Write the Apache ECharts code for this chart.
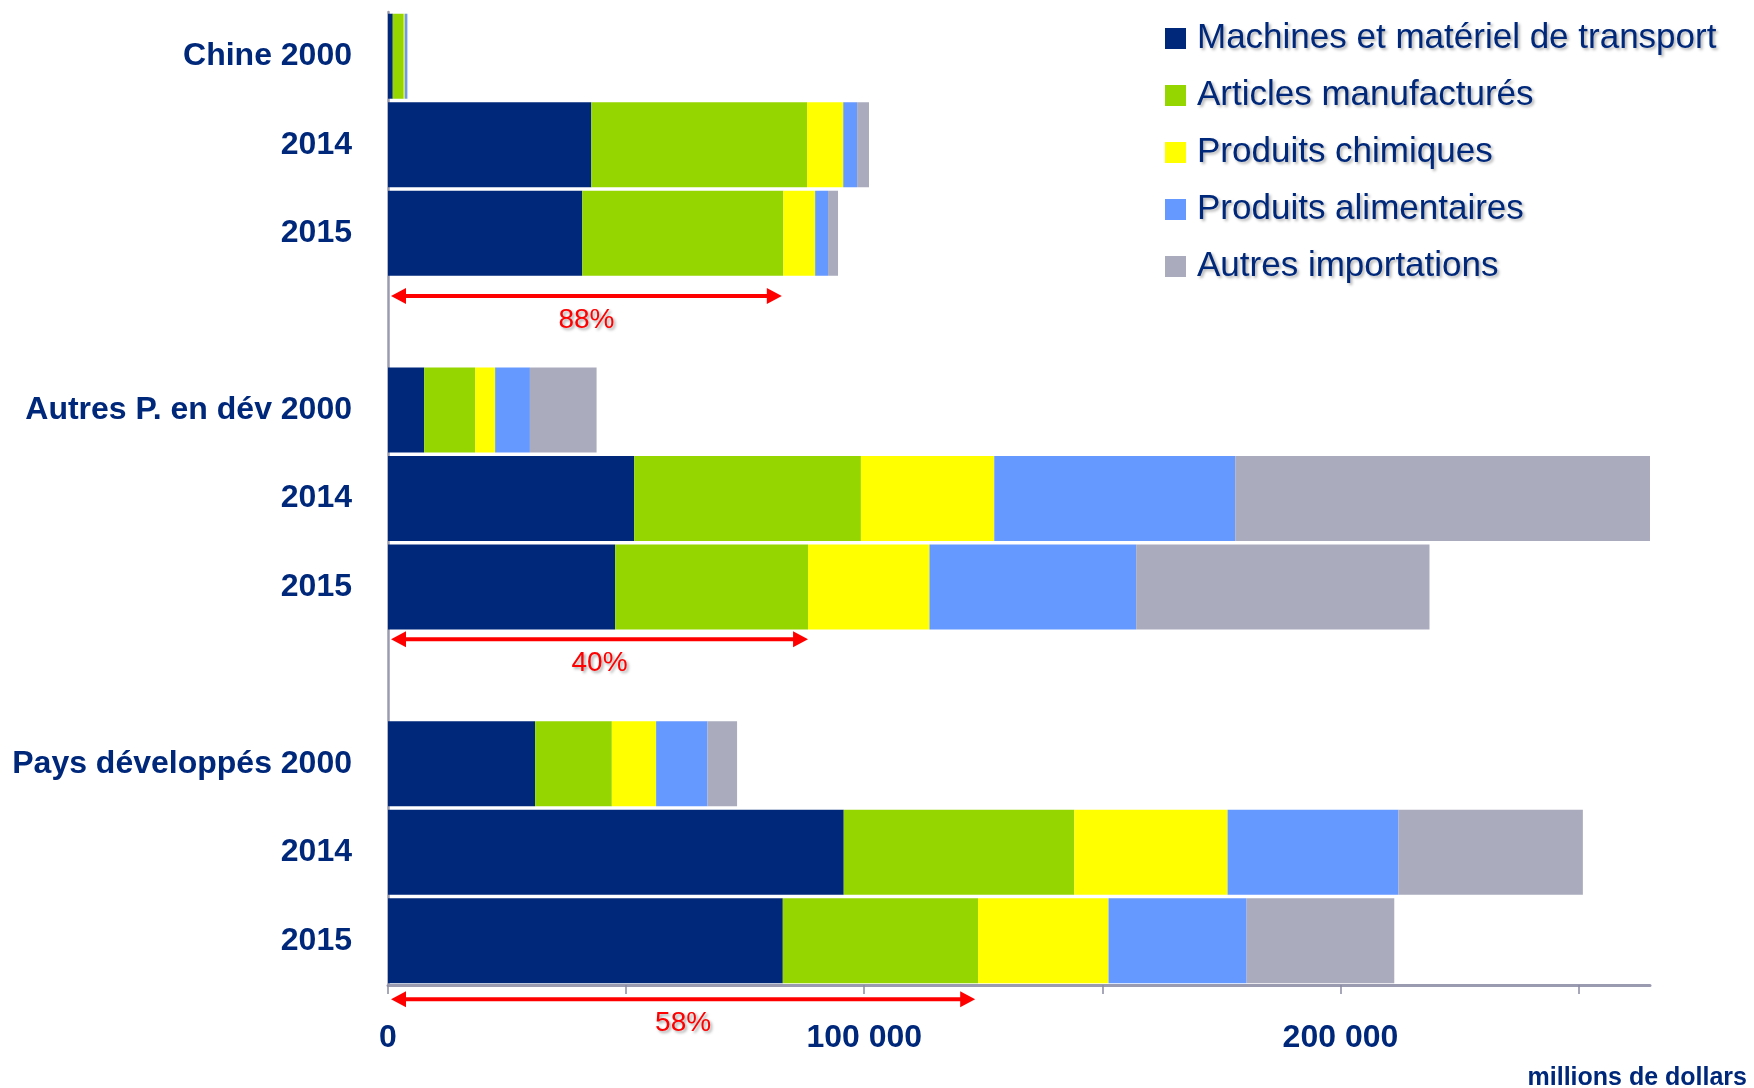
<!DOCTYPE html>
<html>
<head>
<meta charset="utf-8">
<script src="https://cdn.jsdelivr.net/npm/echarts@6/dist/echarts.min.js"></script>
<style>
html,body{margin:0;padding:0;background:#fff;}
#main{width:1754px;height:1088px;}
</style>
</head>
<body>
<div id="main"></div>
<script>
// ---- data ----
const categories = ['Chine 2000','Chine 2014','Chine 2015','gap1','Autres 2000','Autres 2014','Autres 2015','gap2','Dev 2000','Dev 2014','Dev 2015'];
const tickLabels = ['Chine 2000','2014','2015','','Autres P. en dév 2000','2014','2015','','Pays développés 2000','2014','2015'];
const seriesNames = ['Machines et matériel de transport','Articles manufacturés','Produits chimiques','Produits alimentaires','Autres importations'];
const machines     = [1000, 42700, 40800, null,  7600, 51700, 47700, null, 30900, 95700, 82900];
const articles     = [2300, 45300, 42200, null, 10700, 47600, 40500, null, 16100, 48400, 41000];
const chimiques    = [ 200,  7600,  6700, null,  4200, 28000, 25500, null,  9300, 32200, 27400];
const alimentaires = [ 500,  2900,  2700, null,  7300, 50600, 43400, null, 10800, 35900, 29000];
const autres       = [ 100,  2500,  2100, null, 14000, 87100, 61600, null,  6200, 38700, 31000];
const xTickValues  = [0, 50000, 100000, 150000, 200000, 250000];
const xLabelValues = [0, 100000, 200000];
const arrowRows    = [2, 6, 10];
const arrowEnds    = [82700, 88200, 123300];
const arrowLabels  = ['88%', '40%', '58%'];

// ---- styling ----
const NAVY = '#00287A';
const colors = ['#00287A', '#95D500', '#FFFF00', '#6699FF', '#AAABBD'];
const FONT = "'Liberation Sans', Arial, sans-serif";
const ARROW_OFFSETS = [0.71, 0.59, 0.66]; // fraction of a band below the 2015 bar centre

const chart = echarts.init(document.getElementById('main'), null, {renderer: 'canvas'});

const values = [machines, articles, chimiques, alimentaires, autres];
const barSeries = values.map((arr, i) => ({
  name: seriesNames[i],
  type: 'bar',
  stack: 'total',
  barWidth: 85,
  data: arr,
  itemStyle: {color: colors[i]},
  emphasis: {disabled: true},
  z: 2
}));

const arrowSeries = {
  type: 'custom',
  name: 'arrows',
  clip: false,
  z: 5,
  encode: {x: [0, 1], y: 2},
  data: arrowRows.map((r, i) => [0, arrowEnds[i], r]),
  renderItem: function (params, api) {
    const row = api.value(2);
    const p0 = api.coord([api.value(0), row]);
    const p1 = api.coord([api.value(1), row]);
    const band = api.size([0, 1])[1];
    const y = p0[1] + ARROW_OFFSETS[params.dataIndex] * band;
    const xs = p0[0] + 3;
    const xe = p1[0];
    const hl = 15, hh = 8;
    const red = '#FF0000';
    return {
      type: 'group',
      children: [
        {type: 'line', shape: {x1: xs + hl - 2, y1: y, x2: xe - hl + 2, y2: y},
          style: {stroke: red, lineWidth: 4}},
        {type: 'polygon', shape: {points: [[xs, y], [xs + hl, y - hh], [xs + hl, y + hh]]},
          style: {fill: red}},
        {type: 'polygon', shape: {points: [[xe, y], [xe - hl, y - hh], [xe - hl, y + hh]]},
          style: {fill: red}},
        {type: 'text', style: {
          text: arrowLabels[params.dataIndex], x: (xs + xe) / 2, y: y + 24,
          fill: red, fontSize: 28, fontFamily: FONT, align: 'center', verticalAlign: 'middle',
          textShadowColor: 'rgba(0,0,0,0.35)', textShadowBlur: 3, textShadowOffsetX: 2, textShadowOffsetY: 2
        }}
      ]
    };
  }
};

const option = {
  backgroundColor: '#ffffff',
  animation: false,
  textStyle: {fontFamily: FONT},
  grid: {left: 388, right: 104, top: 12, bottom: 103, containLabel: false},
  legend: {
    orient: 'vertical',
    left: 1160,
    top: 16,
    icon: 'rect',
    itemWidth: 21,
    itemHeight: 21,
    itemGap: 22,
    selectedMode: false,
    data: seriesNames,
    textStyle: {
      fontSize: 35, lineHeight: 35, color: NAVY, fontFamily: FONT,
      padding: [0, 0, 0, 6],
      textShadowColor: 'rgba(0,0,0,0.3)', textShadowBlur: 3, textShadowOffsetX: 2, textShadowOffsetY: 2
    }
  },
  xAxis: {
    type: 'value',
    min: 0,
    max: 265000,
    interval: 50000,
    splitLine: {show: false},
    axisLine: {show: true, onZero: false, lineStyle: {color: '#9a9bb0', width: 3}},
    axisTick: {show: true, length: 9, customValues: xTickValues, lineStyle: {color: '#8a8ba4', width: 1.5}},
    axisLabel: {
      show: true, margin: 37, customValues: xLabelValues,
      fontSize: 32, fontWeight: 'bold', color: NAVY, fontFamily: FONT,
      formatter: function (v) { return v === 0 ? '0' : (v / 1000) + ' 000'; }
    }
  },
  yAxis: {
    type: 'category',
    inverse: true,
    data: categories,
    axisLine: {show: true, lineStyle: {color: '#9a9bb0', width: 2.5}},
    axisTick: {show: false},
    splitLine: {show: false},
    axisLabel: {
      margin: 36, fontSize: 32, fontWeight: 'bold', color: NAVY, fontFamily: FONT,
      formatter: function (v, i) { return tickLabels[i]; }
    }
  },
  graphic: [{
    type: 'text',
    right: 7,
    top: 1066,
    style: {text: 'millions de dollars', fontSize: 25, fontWeight: 'bold', fill: NAVY, fontFamily: FONT}
  }],
  series: barSeries.concat([arrowSeries])
};

chart.setOption(option);
</script>
</body>
</html>
